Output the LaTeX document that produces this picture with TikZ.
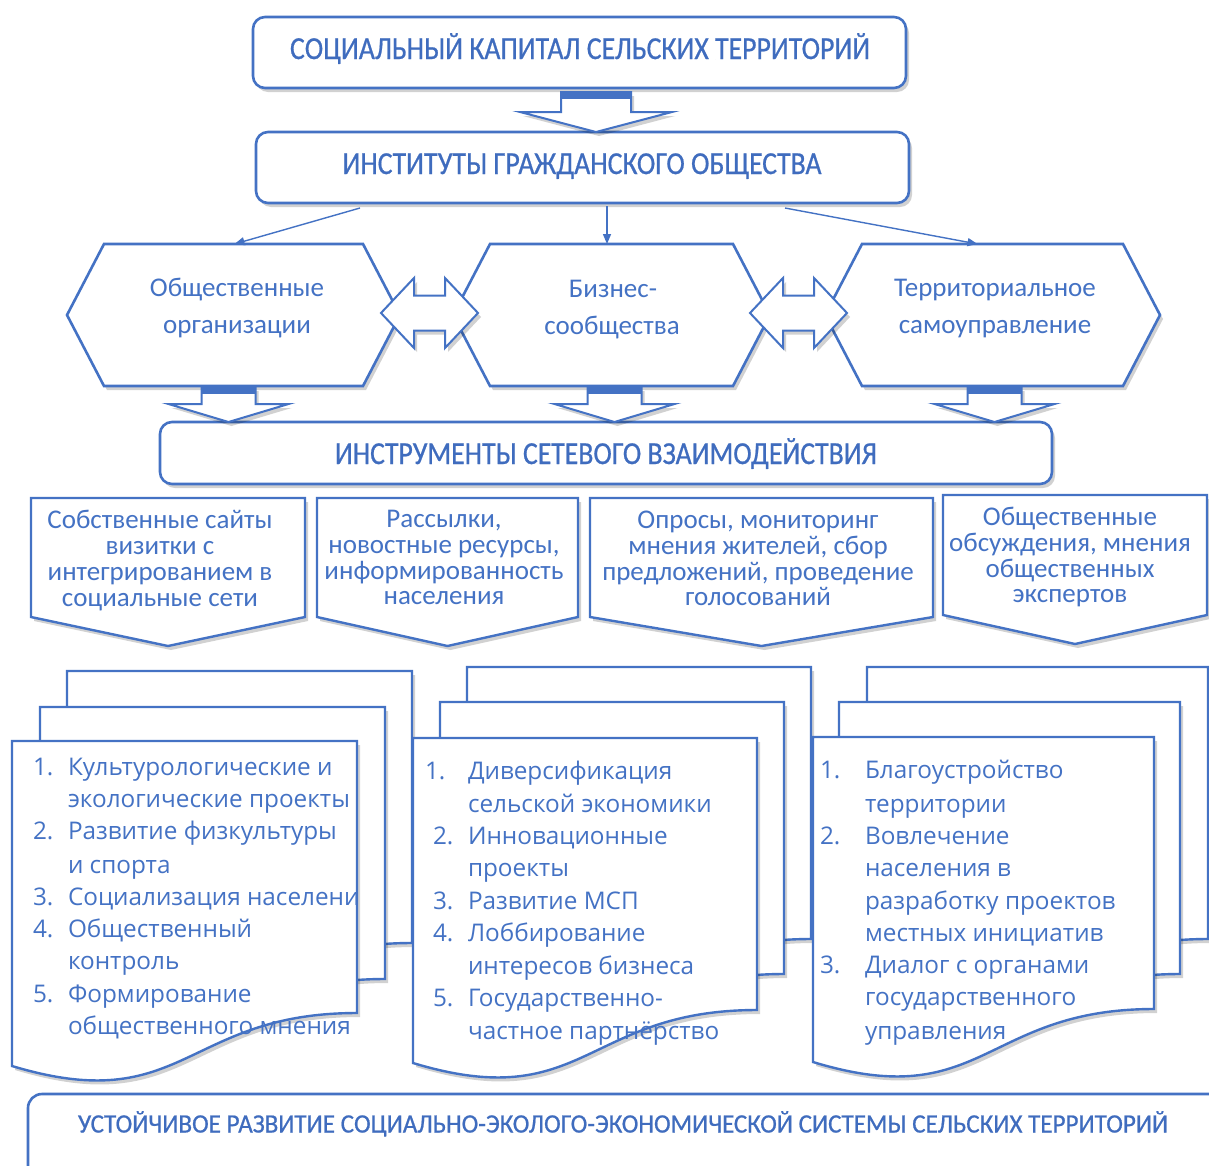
\documentclass[tikz,border=0pt]{standalone}
\usepackage{fontspec}
\usepackage{graphicx}
\setmainfont{Carlito}
\newfontfamily\osfont{Open Sans}
\newfontfamily\ttlfont{Carlito}[FakeBold=0.7]
\usetikzlibrary{arrows.meta,calc,shadows}
\definecolor{bl}{HTML}{4472C4}
\definecolor{tx}{HTML}{4472C4}
\definecolor{tt}{HTML}{3F6CBE}
\tikzset{
  every node/.style={inner sep=0pt, outer sep=0pt},
  shd/.style={drop shadow={shadow xshift=3pt,shadow yshift=-4pt,opacity=0.18,fill=black}},
  rbox/.style={draw=bl, line width=2.6pt, rounded corners=12pt, fill=white, shd},
  hexline/.style={draw=bl, line width=2.6pt, fill=white, shd, line join=miter},
  pentline/.style={draw=bl, line width=2.4pt, fill=white, shd, line join=miter},
  sheet/.style={draw=bl, line width=2.4pt, fill=white, shd, line join=miter},
  blk/.style={draw=bl, line width=2pt, fill=white, shd, line join=miter},
  conn/.style={draw=bl, line width=1.4pt, -{Triangle[length=10pt,width=8pt]}},
  ttl/.style={text=tt, anchor=base},
  hextext/.style={text=tx, anchor=base, font=\fontsize{27}{30}\selectfont},
  pentext/.style={text=tx, anchor=base, font=\fontsize{27}{27}\selectfont},
  doctext/.style={text=tx, anchor=base west, font=\osfont\fontsize{24.3}{28}\selectfont},
}
\newcommand\blkdown[5]{%
  \draw[blk] let \p1=#1, \p2=#2 in (\x2-#3pt,\y1) -- (\x2+#3pt,\y1) -- (\x2+#3pt,\y2+#5pt) -- (\x2+#4pt,\y2+#5pt) -- (\x2,\y2) -- (\x2-#4pt,\y2+#5pt) -- (\x2-#3pt,\y2+#5pt) -- cycle;
  \fill[bl] let \p1=#1, \p2=#2 in (\x2-#3pt,\y1) rectangle (\x2+#3pt,\y1-7pt);
}
\newcommand\dblarrow[1]{%
  \draw[blk] let \p1=#1 in (\x1-48.5pt,\y1) -- (\x1-15.5pt,\y1+35pt) -- (\x1-15.5pt,\y1+17.5pt) -- (\x1+15.5pt,\y1+17.5pt) -- (\x1+15.5pt,\y1+35pt) -- (\x1+48.5pt,\y1) -- (\x1+15.5pt,\y1-35pt) -- (\x1+15.5pt,\y1-17.5pt) -- (\x1-15.5pt,\y1-17.5pt) -- (\x1-15.5pt,\y1-35pt) -- cycle;
}
\newcommand\docsheet[3]{%
  \draw[sheet] (#1,#2) -- ({#1+#3},#2) -- ({#1+#3},{#2+272}) .. controls ({#1+#3/2},{#2+272}) and ({#1+#3/2},{#2+377}) .. (#1,{#2+325}) -- cycle;
}
\begin{document}
\begin{tikzpicture}[x=1pt,y=-1pt]
\clip (0,0) rectangle (1209,1165);
\fill[white] (0,0) rectangle (1209,1165);

% --- top boxes
\node[rbox, minimum width=653pt, minimum height=71pt] (b1) at (579.5,52.5) {};
\node[ttl] (b1t) at (580,59) {\resizebox{580pt}{\height}{\ttlfont\fontsize{32}{32}\selectfont СОЦИАЛЬНЫЙ КАПИТАЛ СЕЛЬСКИХ ТЕРРИТОРИЙ}};
\node[rbox, minimum width=653pt, minimum height=71pt] (b2) at (582.5,167.5) {};
\node[ttl] (b2t) at (582,174) {\resizebox{479pt}{\height}{\ttlfont\fontsize{32}{32}\selectfont ИНСТИТУТЫ ГРАЖДАНСКОГО ОБЩЕСТВА}};
\coordinate (a1) at (596,0);
\blkdown{([yshift=-4pt]b1.south -| a1)}{(b2.north -| a1)}{35}{76}{20}

% --- hexagons
\node[minimum width=333pt, minimum height=142pt] (h1) at (233.5,315) {};
\node[minimum width=317pt, minimum height=142pt] (h2) at (611.5,315) {};
\node[minimum width=335pt, minimum height=142pt] (h3) at (992.5,315) {};
\foreach \h in {h1,h2,h3}{
  \draw[hexline] (\h.west) -- ([xshift=37pt]\h.north west) -- ([xshift=-37pt]\h.north east) -- (\h.east) -- ([xshift=-37pt]\h.south east) -- ([xshift=37pt]\h.south west) -- cycle;
}
\node[hextext] (h1a) at (237,296) {Общественные};
\node[hextext] (h1b) at (237,333) {организации};
\node[hextext] (h2a) at (613,297) {Бизнес-};
\node[hextext] (h2b) at (612,334) {сообщества};
\node[hextext] (h3a) at (995,296) {Территориальное};
\node[hextext] (h3b) at (995,333) {самоуправление};

\dblarrow{($(h1.east)!0.5!(h2.west)+(3,-2)$)}
\dblarrow{($(h2.east)!0.5!(h3.west)+(1,-2)$)}

% --- thin connectors
\coordinate (c1) at ($(b2.south west)+(104,5)$);
\coordinate (c2) at ($(b2.south west)+(351,3)$);
\coordinate (c3) at ($(b2.south west)+(529,5)$);
\draw[conn] (c1) -- ([xshift=1pt]h1.north);
\draw[conn] (c2) -- (c2 |- h2.north);
\draw[conn] (c3) -- ([xshift=-15pt]h3.north);

% --- instruments box
\node[rbox, minimum width=892pt, minimum height=62pt] (b3) at (606,453) {};
\node[ttl] (b3t) at (606,464) {\resizebox{542pt}{\height}{\ttlfont\fontsize{32}{32}\selectfont ИНСТРУМЕНТЫ СЕТЕВОГО ВЗАИМОДЕЙСТВИЯ}};
\blkdown{([xshift=-5pt,yshift=-1pt]h1.south)}{([xshift=-5pt]h1.south |- b3.north)}{27}{60}{18}
\blkdown{([xshift=3pt,yshift=-1pt]h2.south)}{([xshift=3pt]h2.south |- b3.north)}{27}{60}{18}
\blkdown{([xshift=2pt,yshift=-1pt]h3.south)}{([xshift=2pt]h3.south |- b3.north)}{27}{60}{18}

% --- pentagons
\node[minimum width=274pt, minimum height=148pt] (p1) at (168,572) {};
\node[minimum width=261pt, minimum height=148pt] (p2) at (447.5,572) {};
\node[minimum width=343pt, minimum height=148pt] (p3) at (761.5,572) {};
\node[minimum width=264pt, minimum height=149pt] (p4) at (1075,569.5) {};
\foreach \p in {p1,p2,p3,p4}{
  \draw[pentline] (\p.north west) -- (\p.north east) -- ([yshift=29pt]\p.south east) -- (\p.south) -- ([yshift=29pt]\p.south west) -- cycle;
}
\node[pentext] (p1a) at (160,528) {Собственные сайты};
\node[pentext] (p1b) at (160,554) {визитки с};
\node[pentext] (p1c) at (160,580) {интегрированием в};
\node[pentext] (p1d) at (160,606) {социальные сети};
\node[pentext] (p2a) at (444,527) {Рассылки,};
\node[pentext] (p2b) at (444,553) {новостные ресурсы,};
\node[pentext] (p2c) at (444,579) {информированность};
\node[pentext] (p2d) at (444,604) {населения};
\node[pentext] (p3a) at (758,528) {Опросы, мониторинг};
\node[pentext] (p3b) at (758,554) {мнения жителей, сбор};
\node[pentext] (p3c) at (758,580) {предложений, проведение};
\node[pentext] (p3d) at (758,605) {голосований};
\node[pentext] (p4a) at (1070,525) {Общественные};
\node[pentext] (p4b) at (1070,551) {обсуждения, мнения};
\node[pentext] (p4c) at (1070,577) {общественных};
\node[pentext] (p4d) at (1070,602) {экспертов};

% --- document stacks
\docsheet{67}{671}{345}
\docsheet{40}{707}{345}
\docsheet{12}{741}{345}
\docsheet{467}{667}{344}
\docsheet{440}{702}{344}
\docsheet{413}{738}{344}
\docsheet{867}{667}{341}
\docsheet{839}{702}{341}
\docsheet{813}{737}{341}

% stack 1 text
\node[doctext] (n11) at (33,775) {1.};
\node[doctext] (s1a) at (68,775) {Культурологические и};
\node[doctext] (s1b) at (68,807) {экологические проекты};
\node[doctext] (n12) at (33,839) {2.};
\node[doctext] (s1c) at (68,839) {Развитие физкультуры};
\node[doctext] (s1d) at (68,873) {и спорта};
\node[doctext] (n13) at (33,905) {3.};
\begin{scope}
\clip (0,880) rectangle (358,915);
\node[doctext] (s1e) at (68,905) {Социализация населения};
\end{scope}
\node[doctext] (n14) at (33,937) {4.};
\node[doctext] (s1f) at (68,937) {Общественный};
\node[doctext] (s1g) at (68,969) {контроль};
\node[doctext] (n15) at (33,1002) {5.};
\node[doctext] (s1h) at (68,1002) {Формирование};
\node[doctext] (s1i) at (68,1034) {общественного мнения};

% stack 2 text
\node[doctext] (n21) at (425,779) {1.};
\node[doctext] (s2a) at (468,779) {Диверсификация};
\node[doctext] (s2b) at (468,812) {сельской экономики};
\node[doctext] (n22) at (433,844) {2.};
\node[doctext] (s2c) at (468,844) {Инновационные};
\node[doctext] (s2d) at (468,876) {проекты};
\node[doctext] (n23) at (433,909) {3.};
\node[doctext] (s2e) at (468,909) {Развитие МСП};
\node[doctext] (n24) at (433,941) {4.};
\node[doctext] (s2f) at (468,941) {Лоббирование};
\node[doctext] (s2g) at (468,974) {интересов бизнеса};
\node[doctext] (n25) at (433,1006) {5.};
\node[doctext] (s2h) at (468,1006) {Государственно-};
\node[doctext] (s2i) at (468,1039) {частное партнёрство};

% stack 3 text
\node[doctext] (n31) at (820,778) {1.};
\node[doctext] (s3a) at (865,778) {Благоустройство};
\node[doctext] (s3b) at (865,812) {территории};
\node[doctext] (n32) at (820,844) {2.};
\node[doctext] (s3c) at (865,844) {Вовлечение};
\node[doctext] (s3d) at (865,876) {населения в};
\node[doctext] (s3e) at (865,909) {разработку проектов};
\node[doctext] (s3f) at (865,941) {местных инициатив};
\node[doctext] (n33) at (820,973) {3.};
\node[doctext] (s3g) at (865,973) {Диалог с органами};
\node[doctext] (s3h) at (865,1005) {государственного};
\node[doctext] (s3i) at (865,1039) {управления};

% --- bottom box
\node[rbox, rounded corners=14pt, minimum width=1202pt, minimum height=106pt] (b4) at (629,1147) {};
\node[ttl] (b4t) at (623,1132.5) {\resizebox{1090pt}{\height}{\ttlfont\fontsize{26.5}{26.5}\selectfont УСТОЙЧИВОЕ РАЗВИТИЕ СОЦИАЛЬНО-ЭКОЛОГО-ЭКОНОМИЧЕСКОЙ СИСТЕМЫ СЕЛЬСКИХ ТЕРРИТОРИЙ}};
\end{tikzpicture}
\end{document}
